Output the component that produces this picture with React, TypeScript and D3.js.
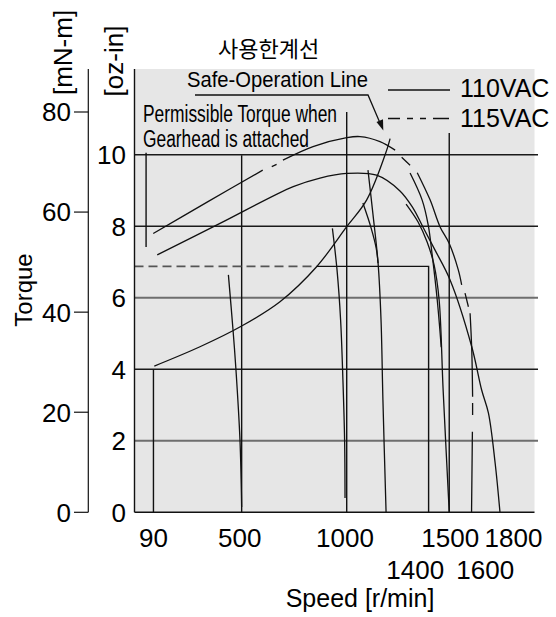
import React from 'react';
import * as d3 from 'd3';

type Pt = [number, number] | null;

// speed [r/min], torque [oz-in]; null = gap in a dashed curve
const safeOperationLine: Pt[] = [[94, 4.09], [311, 4.63], [509, 5.21], [691, 5.89], [865, 6.87], [1008, 7.99], [1103, 8.74], [1198, 10.13], [1214, 10.45]];

const curve110: Pt[] = [[108, 7.2], [406, 8.08], [754, 9.11], [881, 9.35], [1008, 9.48], [1150, 9.43], [1261, 8.99], [1323, 8.51], [1370, 7.98], [1427, 7.34], [1499, 6.5], [1602, 4.63], [1649, 3.42], [1681, 2.78], [1713, 1.38], [1736, 0]];

const curve115: Pt[] = [[89, 7.8], [349, 8.69], [609, 9.57], null, [652, 9.67], [675, 9.73], null, [705, 9.85], [848, 10.23], [1008, 10.48], [1071, 10.51], [1166, 10.37], [1238, 10.13], null, [1269, 9.93], [1309, 9.71], null, [1343, 9.5], [1404, 8.74], [1451, 7.99], [1495, 7.52], [1538, 6.78], [1554, 6.36], null, [1570, 6.13], [1586, 5.75], null, [1594, 5.57], [1602, 4.54], [1606, 3.23], null, [1606, 3.06], [1606, 2.72], null, [1605, 2.25], [1601, 0]];

const branch1300: Pt[] = [[1309, 9.49], [1366, 8.74], [1395, 8.04], [1414, 7.2], [1438, 5.94], [1457, 4.62]];
const branch1500: Pt[] = [[1290, 8.62], [1347, 8.12], [1390, 7.56], [1423, 6.92], [1447, 5.94], [1466, 3.42], [1495, 0]];
const line1200: Pt[] = [[1109, 9.57], [1133, 8.32], [1157, 6.97], [1171, 5.38], [1180, 3.14], [1195, 0]];
const branch1150: Pt[] = [[1085, 8.65], [1124, 7.95], [1148, 7.39], [1157, 6.97]];
const line1000: Pt[] = [[940, 7.94], [962, 6.78], [979, 5.38], [990, 3.7], [998, 2.02], [1000, 0.4]];
const line500: Pt[] = [[446, 6.64], [468, 5.1], [482, 3.98], [501, 2.02], [509, 0.15]];

// straight speed lines: [speed, torque low, torque high]
const speedLines: [number, number, number][] = [[55, 7.42, 10.06], [90, 0, 4.0], [509, 0, 9.99], [1008, 0, 11.2], [1495, 0, 10.61]];

// permissible torque with gearhead
const gearheadTorque = 6.88;
const gearheadDashedTo = 865;
const gearheadSpeed = 1397;

const ozTicks = [0, 2, 4, 6, 8, 10];
const mnmTicks = [0, 20, 40, 60, 80];
const speedTicksRow1 = [90, 500, 1000, 1500, 1800];
const speedTicksRow2 = [1400, 1600];

const SANS = "'Liberation Sans', Arial, Helvetica, sans-serif";
const NARROW = "'Liberation Sans Narrow', 'Liberation Sans', Arial, sans-serif";

export default function App() {
  const left = 134.5, right = 534.5, top = 69, bottom = 512.3;
  const x = d3.scaleLinear().domain([0, 1900]).range([left, right]);
  const y = d3.scaleLinear().domain([0, 12.4]).range([bottom, top]);
  const yMN = d3.scaleLinear().domain([0, 80]).range([bottom, 112]);

  const line = d3.line<Pt>()
    .defined(d => d !== null)
    .x(d => x(d![0]))
    .y(d => y(d![1]))
    .curve(d3.curveCatmullRom);

  const curves = [curve110, curve115, branch1300, branch1500, line1200, branch1150, line1000, line500, safeOperationLine];

  // spread the second row of speed labels so they do not collide
  const row2 = speedTicksRow2.map(v => x(v));
  const minGap = 62;
  const mid = (row2[0] + row2[1]) / 2;
  const row2Pos = row2[1] - row2[0] < minGap ? [mid - minGap / 2 - 4, mid + minGap / 2 + 4] : row2;

  return (
    <svg width={556} height={617} style={{ position: 'absolute', left: 0, top: 0, background: '#fff' }} fontFamily={SANS}>
      <rect x={left} y={top} width={right - left} height={bottom - top} fill="#e6e6e6" />

      {/* horizontal grid */}
      {ozTicks.filter(v => v > 0).map(v => (
        <line key={v} x1={left} x2={538} y1={y(v)} y2={y(v)}
          stroke={v === 6 || v === 2 ? '#6e6e6e' : '#1a1a1a'} strokeWidth={v === 6 || v === 2 ? 2 : 1.4} />
      ))}

      {/* straight speed lines */}
      {speedLines.map(([s, t0, t1]) => (
        <line key={s} x1={x(s)} x2={x(s)} y1={y(t0)} y2={y(t1)} stroke="#111" strokeWidth={1.4} />
      ))}

      {/* gearhead permissible torque */}
      <line x1={x(0)} x2={x(gearheadDashedTo)} y1={y(gearheadTorque)} y2={y(gearheadTorque)}
        stroke="#555" strokeWidth={1.6} strokeDasharray="9 5" />
      <path d={`M${x(gearheadDashedTo)},${y(gearheadTorque)}H${x(gearheadSpeed)}V${y(0)}`}
        fill="none" stroke="#111" strokeWidth={1.4} />

      {curves.map((c, i) => (
        <path key={i} d={line(c) || ''} fill="none" stroke="#111" strokeWidth={1.3} />
      ))}

      {/* axes */}
      <line x1={left} x2={left} y1={top} y2={bottom} stroke="#111" strokeWidth={1.4} />
      <line x1={left} x2={right} y1={bottom} y2={bottom} stroke="#111" strokeWidth={1.4} />
      <line x1={88.3} x2={88.3} y1={top} y2={bottom} stroke="#111" strokeWidth={1.2} />
      {mnmTicks.map(v => (
        <g key={v}>
          <line x1={74} x2={88.3} y1={yMN(v)} y2={yMN(v)} stroke="#111" strokeWidth={1.2} />
          <text x={71} y={yMN(v)} dy="0.36em" textAnchor="end" fontSize={26}>{v}</text>
        </g>
      ))}
      {ozTicks.map(v => (
        <text key={v} x={126} y={y(v)} dy="0.36em" textAnchor="end" fontSize={26}>{v}</text>
      ))}
      {speedTicksRow1.map(v => (
        <text key={v} x={x(v)} y={547} textAnchor="middle" fontSize={26}>{v}</text>
      ))}
      {speedTicksRow2.map((v, i) => (
        <text key={v} x={row2Pos[i]} y={579} textAnchor="middle" fontSize={26}>{v}</text>
      ))}

      {/* axis titles */}
      <text x={360} y={607} textAnchor="middle" fontSize={25}>Speed [r/min]</text>
      <text transform="translate(32,290) rotate(-90)" textAnchor="middle" fontSize={24}>Torque</text>
      <text transform="translate(72,52.5) rotate(-90)" textAnchor="middle" fontSize={26}>[mN-m]</text>
      <text transform="translate(122.5,61) rotate(-90)" textAnchor="middle" fontSize={26}>[oz-in]</text>

      {/* annotations */}
      <text x={218} y={57} fontSize={22} fontFamily="'Noto Sans CJK KR', sans-serif">사용한계선</text>
      <text x={187} y={87} fontSize={21.5} fontFamily={NARROW} textLength={181} lengthAdjust="spacingAndGlyphs">Safe-Operation Line</text>
      <path d="M195,95H368L380,123" fill="none" stroke="#111" strokeWidth={1.3} />
      <path d="M383.3,130.5L376.5,122L383,119.2Z" fill="#111" />
      <text x={143} y={121.5} fontSize={23.5} fontFamily={NARROW} textLength={194} lengthAdjust="spacingAndGlyphs">Permissible Torque when</text>
      <text x={143} y={146.5} fontSize={23.5} fontFamily={NARROW} textLength={166} lengthAdjust="spacingAndGlyphs">Gearhead is attached</text>

      {/* legend */}
      <line x1={388} x2={450} y1={90} y2={90} stroke="#111" strokeWidth={1.3} />
      <text x={460} y={97} fontSize={25}>110VAC</text>
      <line x1={388} x2={450} y1={118.5} y2={118.5} stroke="#111" strokeWidth={1.3} strokeDasharray="12 7 6 7 6 7 16" />
      <text x={460} y={127} fontSize={25}>115VAC</text>
    </svg>
  );
}
